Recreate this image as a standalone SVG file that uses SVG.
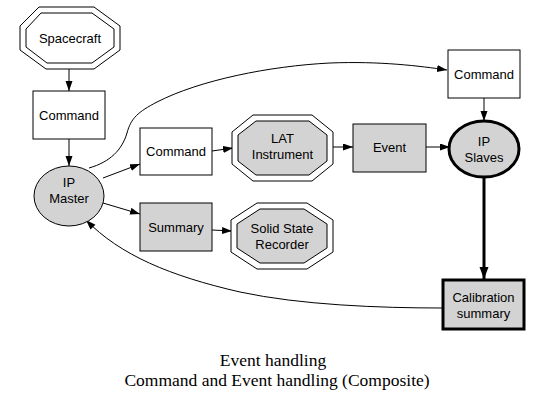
<svg xmlns="http://www.w3.org/2000/svg" width="543" height="407" viewBox="0 0 543 407">
<style>
.n{fill:#fff;stroke:#000;stroke-width:1}
.g{fill:#d3d3d3;stroke:#000;stroke-width:1}
.thick{stroke-width:3}
.t{font-family:"Liberation Sans",Arial,sans-serif;font-size:13px;text-anchor:middle;fill:#000}
.cap{font-family:"Liberation Serif","Times New Roman",serif;font-size:17.5px;text-anchor:middle;fill:#000}
.e{fill:none;stroke:#000;stroke-width:1}
.e.bold{stroke-width:3}
</style>
<defs>
<marker id="ah" markerUnits="userSpaceOnUse" markerWidth="11" markerHeight="8" refX="10" refY="3.5" orient="auto">
<path d="M0,0 L10,3.5 L0,7 z" fill="#000"/>
</marker>
<marker id="ahb" markerUnits="userSpaceOnUse" markerWidth="13" markerHeight="10" refX="12" refY="4.5" orient="auto">
<path d="M0,0 L12,4.5 L0,9 z" fill="#000"/>
</marker>
</defs>
<rect width="543" height="407" fill="#fff"/>
<g id="edges">
<path class="e" d="M69,69 L69,91" marker-end="url(#ah)"/>
<path class="e" d="M69,139 L69,166" marker-end="url(#ah)"/>
<path class="e" d="M103,178 L140,164" marker-end="url(#ah)"/>
<path class="e" d="M103,203 L140,214" marker-end="url(#ah)"/>
<path class="e" d="M212,151 L233,148" marker-end="url(#ah)"/>
<path class="e" d="M212,230 L232,231" marker-end="url(#ah)"/>
<path class="e" d="M333,147 L353,147" marker-end="url(#ah)"/>
<path class="e" d="M426,147 L450,147" marker-end="url(#ah)"/>
<path class="e" d="M484,98 L484,121" marker-end="url(#ah)"/>
<path class="e bold" d="M484,178 L484,279" marker-end="url(#ahb)"/>
<path class="e" d="M89,168 C110,162 122,150 127,133 C131,118 138,112 157,102 C200,80 270,66 330,63 C380,61 420,66 447,70" marker-end="url(#ah)"/>
<path class="e" d="M442,308 C380,308 300,305 240,292 C170,276 120,255 86,220" marker-end="url(#ah)"/>
</g>
<g id="spacecraft">
<polygon class="n" points="39,7 94,7 120,26 120,50 94,69 46,69 20,50 20,26"/>
<polygon class="n" points="41,13 92,13 114,29 114,47 92,63 47,63 26,47 26,29"/>
<text class="t" x="70" y="43">Spacecraft</text>
</g>
<g id="command1">
<rect class="n" x="33" y="91" width="72" height="48"/>
<text class="t" x="69" y="119.5">Command</text>
</g>
<g id="ipmaster">
<ellipse class="g" cx="69" cy="196" rx="35" ry="30"/>
<text class="t" x="69" y="187">IP</text>
<text class="t" x="69" y="203">Master</text>
</g>
<g id="command2">
<rect class="n" x="140" y="128" width="72" height="47"/>
<text class="t" x="176" y="156">Command</text>
</g>
<g id="lat">
<polygon class="n" points="253,115 312,115 333,132 333,164 312,181 253,181 232,164 232,132"/>
<polygon class="g" points="256,121 309,121 327,135 327,161 309,175 256,175 238,161 238,135"/>
<text class="t" x="282.5" y="143">LAT</text>
<text class="t" x="282.5" y="159">Instrument</text>
</g>
<g id="summary">
<rect class="g" x="140" y="203" width="72" height="48"/>
<text class="t" x="176" y="231.5">Summary</text>
</g>
<g id="ssr">
<polygon class="n" points="257,203 307,203 333,220 333,252 307,269 257,269 231,252 231,220"/>
<polygon class="g" points="260,209 304,209 327,224 327,248 304,263 260,263 237,248 237,224"/>
<text class="t" x="282" y="233">Solid State</text>
<text class="t" x="282" y="249">Recorder</text>
</g>
<g id="event">
<rect class="g" x="353" y="124" width="73" height="48"/>
<text class="t" x="389.5" y="152">Event</text>
</g>
<g id="command3">
<rect class="n" x="448" y="50" width="72" height="48"/>
<text class="t" x="484" y="78.5">Command</text>
</g>
<g id="ipslaves">
<ellipse class="g thick" cx="484" cy="149" rx="35" ry="28"/>
<text class="t" x="484" y="146">IP</text>
<text class="t" x="484" y="162">Slaves</text>
</g>
<g id="calibration">
<rect class="g thick" x="443" y="280" width="81" height="49"/>
<text class="t" x="483.5" y="302">Calibration</text>
<text class="t" x="483.5" y="318">summary</text>
</g>
<g id="caption">
<text class="cap" x="273" y="366">Event handling</text>
<text class="cap" x="277" y="386">Command and Event handling (Composite)</text>
</g>
</svg>
